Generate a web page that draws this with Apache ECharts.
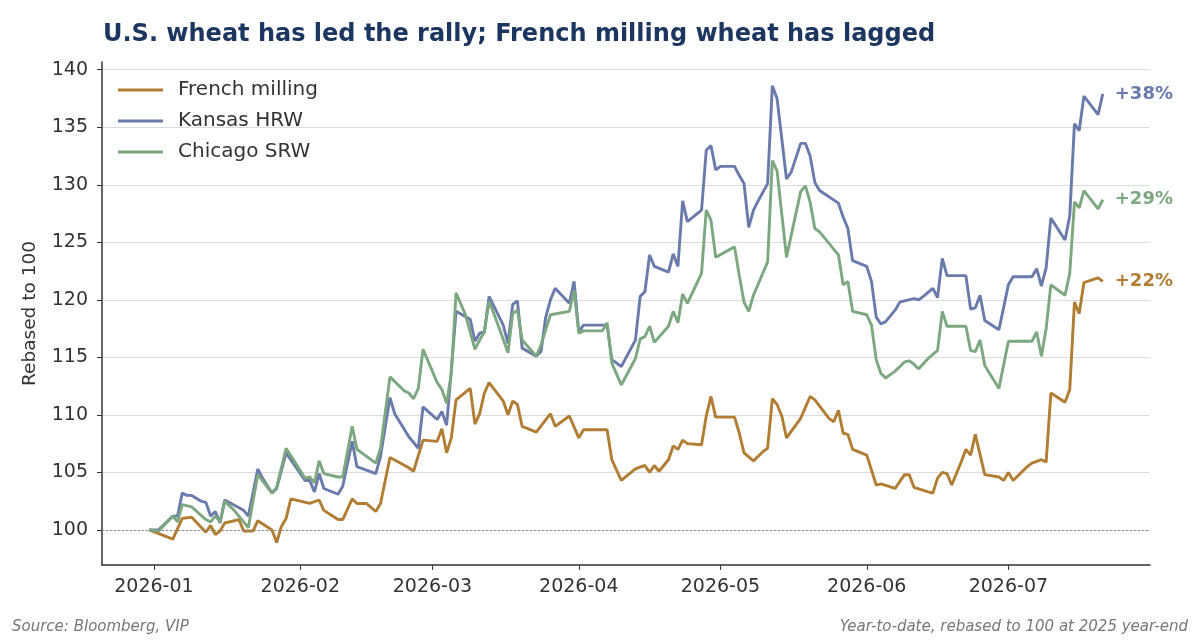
<!DOCTYPE html>
<html>
<head>
<meta charset="utf-8">
<script src="https://cdn.jsdelivr.net/npm/echarts@6/dist/echarts.min.js"></script>
<style>
  html, body { margin: 0; padding: 0; background: #fff; }
  #chart { width: 1200px; height: 640px; }
</style>
</head>
<body>
<div id="chart"></div>
<script>
// rebased prices, 100 = 2025 year-end
const frenchMilling = [
  ['2025-12-31', 100], ['2026-01-05', 99.2], ['2026-01-07', 101.0], ['2026-01-09', 101.1],
  ['2026-01-12', 99.8], ['2026-01-13', 100.4], ['2026-01-14', 99.6], ['2026-01-15', 99.9],
  ['2026-01-16', 100.6], ['2026-01-19', 100.9], ['2026-01-20', 99.9], ['2026-01-22', 99.9],
  ['2026-01-23', 100.8], ['2026-01-26', 100.0], ['2026-01-27', 98.9], ['2026-01-28', 100.3],
  ['2026-01-29', 101.0], ['2026-01-30', 102.7], ['2026-02-03', 102.3], ['2026-02-05', 102.6],
  ['2026-02-06', 101.7], ['2026-02-09', 100.9], ['2026-02-10', 100.9], ['2026-02-12', 102.7],
  ['2026-02-13', 102.3], ['2026-02-15', 102.3], ['2026-02-17', 101.6], ['2026-02-18', 102.3],
  ['2026-02-20', 106.3], ['2026-02-24', 105.4], ['2026-02-25', 105.1], ['2026-02-27', 107.8],
  ['2026-03-02', 107.7], ['2026-03-03', 108.8], ['2026-03-04', 106.7], ['2026-03-05', 108.0],
  ['2026-03-06', 111.3], ['2026-03-09', 112.3], ['2026-03-10', 109.2], ['2026-03-11', 110.1],
  ['2026-03-12', 111.9], ['2026-03-13', 112.8], ['2026-03-16', 111.2], ['2026-03-17', 110.0],
  ['2026-03-18', 111.2], ['2026-03-19', 110.9], ['2026-03-20', 109.0], ['2026-03-23', 108.5],
  ['2026-03-26', 110.1], ['2026-03-27', 109.0], ['2026-03-30', 109.9], ['2026-04-01', 108.0],
  ['2026-04-02', 108.7], ['2026-04-07', 108.7], ['2026-04-08', 106.1], ['2026-04-10', 104.3],
  ['2026-04-13', 105.3], ['2026-04-15', 105.6], ['2026-04-16', 105.0], ['2026-04-17', 105.6],
  ['2026-04-18', 105.1], ['2026-04-20', 106.1], ['2026-04-21', 107.3], ['2026-04-22', 107.0],
  ['2026-04-23', 107.8], ['2026-04-24', 107.5], ['2026-04-27', 107.4], ['2026-04-28', 109.9],
  ['2026-04-29', 111.6], ['2026-04-30', 109.8], ['2026-05-04', 109.8], ['2026-05-05', 108.4],
  ['2026-05-06', 106.7], ['2026-05-08', 106.0], ['2026-05-10', 106.8], ['2026-05-11', 107.1],
  ['2026-05-12', 111.4], ['2026-05-13', 110.9], ['2026-05-14', 109.9], ['2026-05-15', 108.0],
  ['2026-05-18', 109.7], ['2026-05-20', 111.6], ['2026-05-21', 111.3], ['2026-05-24', 109.7],
  ['2026-05-25', 109.4], ['2026-05-26', 110.4], ['2026-05-27', 108.4], ['2026-05-28', 108.3],
  ['2026-05-29', 107.0], ['2026-06-01', 106.5], ['2026-06-03', 103.9], ['2026-06-04', 104.0],
  ['2026-06-07', 103.6], ['2026-06-09', 104.8], ['2026-06-10', 104.8], ['2026-06-11', 103.7],
  ['2026-06-14', 103.3], ['2026-06-15', 103.2], ['2026-06-16', 104.5], ['2026-06-17', 105.0],
  ['2026-06-18', 104.9], ['2026-06-19', 103.9], ['2026-06-21', 105.9], ['2026-06-22', 107.0],
  ['2026-06-23', 106.5], ['2026-06-24', 108.3], ['2026-06-26', 104.8], ['2026-06-29', 104.6],
  ['2026-06-30', 104.3], ['2026-07-01', 105.0], ['2026-07-02', 104.3], ['2026-07-05', 105.5],
  ['2026-07-06', 105.8], ['2026-07-08', 106.1], ['2026-07-09', 105.9], ['2026-07-10', 111.9],
  ['2026-07-13', 111.1], ['2026-07-14', 112.2], ['2026-07-15', 119.8], ['2026-07-16', 118.8],
  ['2026-07-17', 121.5], ['2026-07-20', 121.9], ['2026-07-21', 121.6]
];

const kansasHRW = [
  ['2025-12-31', 100], ['2026-01-02', 100.0], ['2026-01-05', 101.2], ['2026-01-06', 101.2],
  ['2026-01-07', 103.2], ['2026-01-08', 103.0], ['2026-01-09', 103.0], ['2026-01-11', 102.5],
  ['2026-01-12', 102.4], ['2026-01-13', 101.2], ['2026-01-14', 101.6], ['2026-01-15', 100.6],
  ['2026-01-16', 102.6], ['2026-01-20', 101.7], ['2026-01-21', 101.2], ['2026-01-23', 105.3],
  ['2026-01-24', 104.5], ['2026-01-26', 103.2], ['2026-01-27', 103.6], ['2026-01-29', 106.7],
  ['2026-02-02', 104.3], ['2026-02-03', 104.3], ['2026-02-04', 103.3], ['2026-02-05', 104.9],
  ['2026-02-06', 103.6], ['2026-02-09', 103.1], ['2026-02-10', 103.8], ['2026-02-12', 107.7],
  ['2026-02-13', 105.5], ['2026-02-17', 104.9], ['2026-02-18', 106.4], ['2026-02-20', 111.5],
  ['2026-02-21', 110.1], ['2026-02-24', 108.1], ['2026-02-26', 107.1], ['2026-02-27', 110.7],
  ['2026-03-02', 109.6], ['2026-03-03', 110.3], ['2026-03-04', 109.1], ['2026-03-05', 113.9],
  ['2026-03-06', 119.0], ['2026-03-09', 118.3], ['2026-03-10', 116.4], ['2026-03-11', 117.1],
  ['2026-03-12', 117.2], ['2026-03-13', 120.3], ['2026-03-16', 117.8], ['2026-03-17', 116.2],
  ['2026-03-18', 119.6], ['2026-03-19', 119.9], ['2026-03-20', 115.8], ['2026-03-23', 115.1],
  ['2026-03-24', 115.5], ['2026-03-25', 118.5], ['2026-03-26', 120.0], ['2026-03-27', 121.0],
  ['2026-03-30', 119.7], ['2026-03-31', 121.6], ['2026-04-01', 117.2], ['2026-04-02', 117.8],
  ['2026-04-06', 117.8], ['2026-04-07', 117.8], ['2026-04-08', 114.8], ['2026-04-10', 114.2],
  ['2026-04-13', 116.5], ['2026-04-14', 120.3], ['2026-04-15', 120.7], ['2026-04-16', 123.9],
  ['2026-04-17', 122.9], ['2026-04-20', 122.4], ['2026-04-21', 124.0], ['2026-04-22', 122.9],
  ['2026-04-23', 128.6], ['2026-04-24', 126.8], ['2026-04-27', 127.8], ['2026-04-28', 133.0],
  ['2026-04-29', 133.4], ['2026-04-30', 131.3], ['2026-05-01', 131.6], ['2026-05-04', 131.6],
  ['2026-05-05', 130.8], ['2026-05-06', 130.1], ['2026-05-07', 126.3], ['2026-05-08', 127.8],
  ['2026-05-09', 128.6], ['2026-05-11', 130.1], ['2026-05-12', 138.6], ['2026-05-13', 137.5],
  ['2026-05-15', 130.5], ['2026-05-16', 131.1], ['2026-05-18', 133.6], ['2026-05-19', 133.6],
  ['2026-05-20', 132.5], ['2026-05-21', 130.2], ['2026-05-22', 129.5], ['2026-05-26', 128.4],
  ['2026-05-27', 127.2], ['2026-05-28', 126.2], ['2026-05-29', 123.4], ['2026-06-01', 122.9],
  ['2026-06-02', 121.6], ['2026-06-03', 118.5], ['2026-06-04', 117.9], ['2026-06-05', 118.1],
  ['2026-06-07', 119.1], ['2026-06-08', 119.8], ['2026-06-09', 119.9], ['2026-06-11', 120.1],
  ['2026-06-12', 120.0], ['2026-06-13', 120.3], ['2026-06-15', 121.0], ['2026-06-16', 120.2],
  ['2026-06-17', 123.6], ['2026-06-18', 122.1], ['2026-06-22', 122.1], ['2026-06-23', 119.2],
  ['2026-06-24', 119.3], ['2026-06-25', 120.4], ['2026-06-26', 118.2], ['2026-06-29', 117.4],
  ['2026-07-01', 121.3], ['2026-07-02', 122.0], ['2026-07-06', 122.0], ['2026-07-07', 122.7],
  ['2026-07-08', 121.2], ['2026-07-09', 122.8], ['2026-07-10', 127.1], ['2026-07-13', 125.2],
  ['2026-07-14', 127.3], ['2026-07-15', 135.3], ['2026-07-16', 134.7], ['2026-07-17', 137.7],
  ['2026-07-20', 136.1], ['2026-07-21', 137.9]
];

const chicagoSRW = [
  ['2025-12-31', 100], ['2026-01-02', 99.9], ['2026-01-05', 101.2], ['2026-01-06', 100.7],
  ['2026-01-07', 102.2], ['2026-01-09', 102.0], ['2026-01-12', 100.9], ['2026-01-13', 100.7],
  ['2026-01-14', 101.2], ['2026-01-15', 100.7], ['2026-01-16', 102.5], ['2026-01-18', 101.7],
  ['2026-01-21', 100.2], ['2026-01-23', 104.8], ['2026-01-26', 103.2], ['2026-01-27', 103.7],
  ['2026-01-29', 107.1], ['2026-02-02', 104.5], ['2026-02-03', 104.6], ['2026-02-04', 104.1],
  ['2026-02-05', 106.0], ['2026-02-06', 104.9], ['2026-02-09', 104.6], ['2026-02-10', 104.6],
  ['2026-02-12', 109.0], ['2026-02-13', 107.0], ['2026-02-17', 105.8], ['2026-02-18', 107.1],
  ['2026-02-20', 113.3], ['2026-02-23', 112.1], ['2026-02-24', 111.9], ['2026-02-25', 111.4],
  ['2026-02-26', 112.3], ['2026-02-27', 115.7], ['2026-03-02', 112.8], ['2026-03-03', 112.2],
  ['2026-03-04', 111.0], ['2026-03-05', 113.6], ['2026-03-06', 120.6], ['2026-03-08', 118.7],
  ['2026-03-10', 115.7], ['2026-03-11', 116.5], ['2026-03-12', 117.2], ['2026-03-13', 119.9],
  ['2026-03-15', 117.7], ['2026-03-17', 115.4], ['2026-03-18', 118.8], ['2026-03-19', 119.1],
  ['2026-03-20', 116.5], ['2026-03-23', 115.1], ['2026-03-24', 116.1], ['2026-03-26', 118.7],
  ['2026-03-30', 119.0], ['2026-03-31', 120.8], ['2026-04-01', 117.1], ['2026-04-02', 117.3],
  ['2026-04-06', 117.3], ['2026-04-07', 118.0], ['2026-04-08', 114.5], ['2026-04-10', 112.6],
  ['2026-04-13', 114.9], ['2026-04-14', 116.6], ['2026-04-15', 116.8], ['2026-04-16', 117.7],
  ['2026-04-17', 116.3], ['2026-04-20', 117.7], ['2026-04-21', 119.0], ['2026-04-22', 118.0],
  ['2026-04-23', 120.5], ['2026-04-24', 119.7], ['2026-04-27', 122.3], ['2026-04-28', 127.8],
  ['2026-04-29', 126.9], ['2026-04-30', 123.7], ['2026-05-04', 124.6], ['2026-05-05', 122.1],
  ['2026-05-06', 119.8], ['2026-05-07', 119.0], ['2026-05-08', 120.4], ['2026-05-11', 123.3],
  ['2026-05-12', 132.1], ['2026-05-13', 131.2], ['2026-05-15', 123.7], ['2026-05-18', 129.4],
  ['2026-05-19', 129.9], ['2026-05-20', 128.5], ['2026-05-21', 126.2], ['2026-05-22', 125.9],
  ['2026-05-26', 123.9], ['2026-05-27', 121.3], ['2026-05-28', 121.6], ['2026-05-29', 119.0],
  ['2026-06-01', 118.7], ['2026-06-02', 117.8], ['2026-06-03', 114.8], ['2026-06-04', 113.6],
  ['2026-06-05', 113.2], ['2026-06-06', 113.5], ['2026-06-07', 113.8], ['2026-06-09', 114.6],
  ['2026-06-10', 114.7], ['2026-06-11', 114.4], ['2026-06-12', 114.0], ['2026-06-14', 114.9],
  ['2026-06-16', 115.6], ['2026-06-17', 119.0], ['2026-06-18', 117.7], ['2026-06-22', 117.7],
  ['2026-06-23', 115.6], ['2026-06-24', 115.5], ['2026-06-25', 116.5], ['2026-06-26', 114.3],
  ['2026-06-29', 112.3], ['2026-07-01', 116.4], ['2026-07-06', 116.4], ['2026-07-07', 117.2],
  ['2026-07-08', 115.1], ['2026-07-09', 117.5], ['2026-07-10', 121.3], ['2026-07-13', 120.4],
  ['2026-07-14', 122.3], ['2026-07-15', 128.5], ['2026-07-16', 128.0], ['2026-07-17', 129.5],
  ['2026-07-20', 127.9], ['2026-07-21', 128.7]
];

const seriesNames = ['French milling', 'Kansas HRW', 'Chicago SRW'];
const seriesColors = ['#b07d32', '#6a7aab', '#7ca780'];
const xTickLabels = ['2026-01', '2026-02', '2026-03', '2026-04', '2026-05', '2026-06', '2026-07'];
const yTicks = [100, 105, 110, 115, 120, 125, 130, 135, 140];
const baseline = 100;

const FONT = 'DejaVu Sans';
const monthStarts = xTickLabels.map(s => {
  const p = s.split('-');
  return new Date(+p[0], +p[1] - 1, 1).getTime();
});

const chart = echarts.init(document.getElementById('chart'));

function lineSeries(name, data, color, withBaseline) {
  const s = {
    name: name,
    type: 'line',
    data: data,
    showSymbol: false,
    symbol: 'none',
    color: color,
    lineStyle: { width: 2.9, color: color },
    endLabel: {
      show: true,
      distance: 12,
      color: color,
      fontFamily: FONT,
      fontWeight: 'bold',
      fontSize: 18,
      formatter: p => '+' + Math.round(p.value[1] - baseline) + '%'
    }
  };
  if (withBaseline) {
    s.markLine = {
      silent: true,
      symbol: 'none',
      label: { show: false },
      lineStyle: { color: '#8a8a8a', type: [2, 2], width: 1 },
      data: [{ yAxis: baseline }]
    };
  }
  return s;
}

chart.setOption({
  animation: false,
  backgroundColor: '#fff',
  title: {
    text: 'U.S. wheat has led the rally; French milling wheat has lagged',
    left: 98,
    top: 18,
    textStyle: { fontFamily: FONT, fontSize: 24, fontWeight: 'bold', color: '#1c3660' }
  },
  legend: {
    orient: 'vertical',
    left: 113,
    top: 75,
    itemWidth: 45,
    itemHeight: 3,
    itemGap: 11,
    icon: 'rect',
    data: seriesNames,
    textStyle: { fontFamily: FONT, fontSize: 20, color: '#333', padding: [0, 0, 0, 10] }
  },
  grid: { left: 102, right: 50, top: 62, bottom: 75, outerBoundsMode: 'none' },
  xAxis: {
    type: 'time',
    min: new Date(2025, 11, 21).getTime(),
    max: new Date(2026, 6, 31).getTime(),
    axisLine: { lineStyle: { color: '#333', width: 1.5 } },
    axisTick: { show: true, length: 5, customValues: monthStarts, lineStyle: { color: '#333' } },
    axisLabel: {
      customValues: monthStarts,
      formatter: '{yyyy}-{MM}',
      fontFamily: FONT, fontSize: 19, color: '#333', margin: 13
    },
    splitLine: { show: false }
  },
  yAxis: {
    type: 'value',
    min: 96.95,
    max: 140.67,
    name: 'Rebased to 100',
    nameLocation: 'middle',
    nameGap: 62,
    nameTextStyle: { fontFamily: FONT, fontSize: 18.5, color: '#333' },
    axisLine: { show: true, lineStyle: { color: '#333', width: 1.5 } },
    axisTick: { show: true, length: 5, customValues: yTicks, lineStyle: { color: '#333' } },
    axisLabel: { customValues: yTicks, fontFamily: FONT, fontSize: 19, color: '#333', margin: 14 },
    splitLine: { show: true, lineStyle: { color: '#dcdcdc', width: 1 } }
  },
  graphic: [
    {
      type: 'text', left: 12, top: 620,
      style: { text: 'Source: Bloomberg, VIP', font: 'italic 15px "DejaVu Sans"', fill: '#777' }
    },
    {
      type: 'text', right: 12, top: 620,
      style: { text: 'Year-to-date, rebased to 100 at 2025 year-end', font: 'italic 15px "DejaVu Sans"', fill: '#777' }
    }
  ],
  series: [
    lineSeries(seriesNames[0], frenchMilling, seriesColors[0], true),
    lineSeries(seriesNames[1], kansasHRW, seriesColors[1], false),
    lineSeries(seriesNames[2], chicagoSRW, seriesColors[2], false)
  ]
});
</script>
</body>
</html>
